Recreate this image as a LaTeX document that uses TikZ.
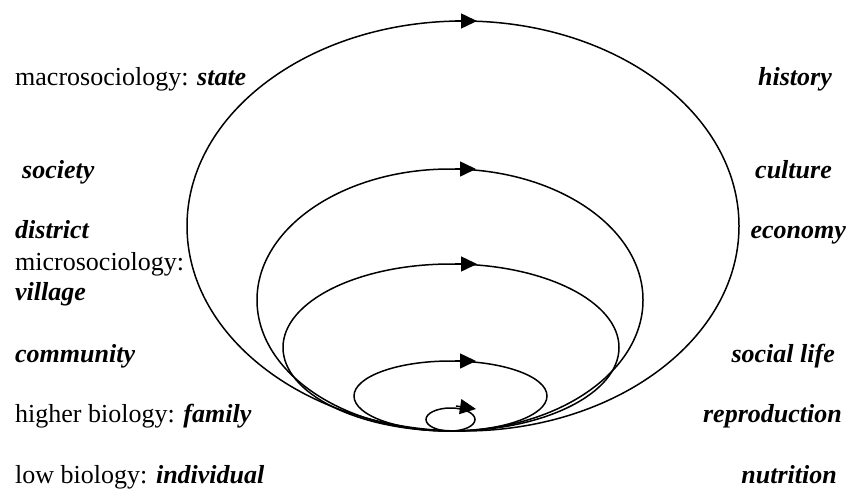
\documentclass[tikz,border=0pt]{standalone}
\usepackage{fontspec}
\setmainfont{Liberation Serif}
\usepackage{tikz}
\usetikzlibrary{arrows.meta}

\begin{document}
\begin{tikzpicture}[
    x=1pt, y=-1pt,
    loop/.style={draw, line width=1.5pt},
    tip/.style={-{Triangle[length=16pt,width=15pt]}, line width=1.5pt},
    lefttext/.style={anchor=base west, inner sep=0pt, font=\fontsize{26}{31}\selectfont},
    righttext/.style={anchor=base east, inner sep=0pt, font=\fontsize{26}{31}\selectfont\bfseries\itshape},
]
\useasboundingbox (0,0) rectangle (850,490);

% nested cycles
\draw[loop] (463,226) ellipse [x radius=276pt, y radius=205pt];
\draw[loop] (450,300) ellipse [x radius=193pt, y radius=131pt];
\draw[loop] (451,347.5) ellipse [x radius=168pt, y radius=83.5pt];
\draw[loop] (450.5,396) ellipse [x radius=96.5pt, y radius=35pt];
\draw[loop] (450.5,419.5) ellipse [x radius=24.5pt, y radius=11.5pt];

\draw[tip] (455,21) -- (477,21);
\draw[tip] (455,169) -- (476,169);
\draw[tip] (455,264) -- (477,264);
\draw[tip] (455,361) -- (476,361);
\draw[tip] (456,406) -- (476,409);

% levels
\node[lefttext] (state) at (15,85) {macrosociology: \textbf{\textit{state}}};
\node[lefttext] (society) at (22,178) {\textbf{\textit{society}}};
\node[lefttext] (district) at (15,238) {\textbf{\textit{district}}};
\node[lefttext] (micro) at (15,270) {microsociology:};
\node[lefttext] (village) at (15,300) {\textbf{\textit{village}}};
\node[lefttext] (community) at (15,362) {\textbf{\textit{community}}};
\node[lefttext] (family) at (15,422) {higher biology: \textbf{\textit{family}}};
\node[lefttext] (individual) at (15,483) {low biology: \textbf{\textit{individual}}};

% fields
\node[righttext] (history) at (832,85) {history};
\node[righttext] (culture) at (832,178) {culture};
\node[righttext] (economy) at (846,238) {economy};
\node[righttext] (sociallife) at (835,362) {social life};
\node[righttext] (reproduction) at (842,422) {reproduction};
\node[righttext] (nutrition) at (837,483) {nutrition};
\end{tikzpicture}
\end{document}
